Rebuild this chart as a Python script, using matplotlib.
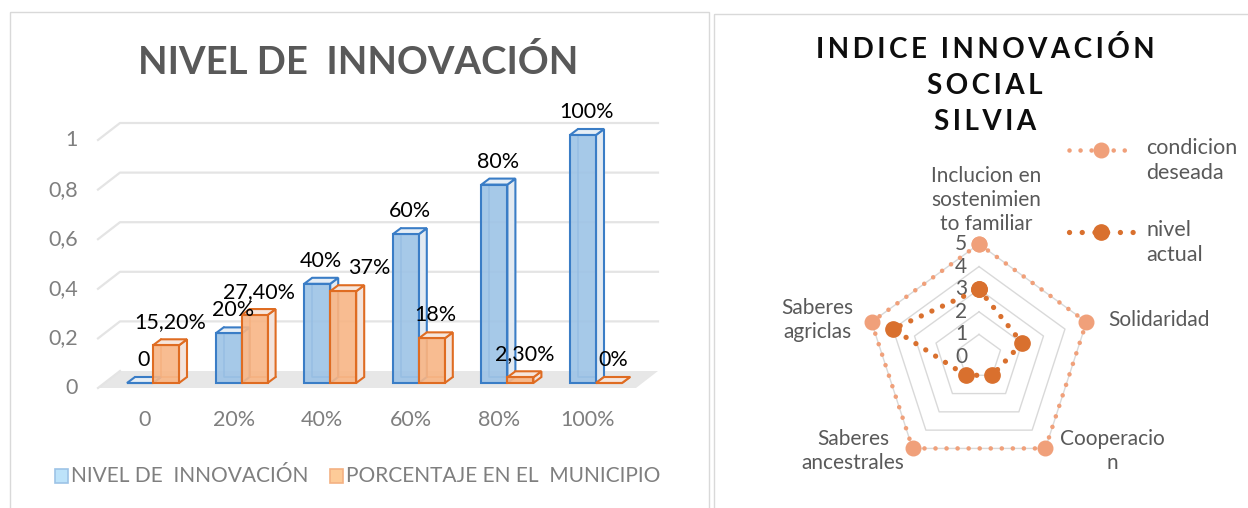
import numpy as np
import matplotlib
matplotlib.use('Agg')
import matplotlib.pyplot as plt
from matplotlib.patches import Polygon, Rectangle
from matplotlib.colors import to_rgba

plt.rcParams['font.family'] = ['Lato', 'DejaVu Sans']

# datos: nivel de innovacion
categorias = ['0', '20%', '40%', '60%', '80%', '100%']
nivel = [0, 0.2, 0.4, 0.6, 0.8, 1.0]
municipio = [0.152, 0.274, 0.37, 0.18, 0.023, 0.0]
etiq_nivel = ['0', '20%', '40%', '60%', '80%', '100%']
etiq_municipio = ['15,20%', '27,40%', '37%', '18%', '2,30%', '0%']
yticks = [0, 0.2, 0.4, 0.6, 0.8, 1.0]
ytick_labels = ['0', '0,2', '0,4', '0,6', '0,8', '1']
series_bar = ['NIVEL DE  INNOVACIÓN', 'PORCENTAJE EN EL  MUNICIPIO']

# datos: radar
ejes = ['Inclucion en\nsostenimien\nto familiar', 'Solidaridad', 'Cooperacio\nn',
        'Saberes\nancestrales', 'Saberes\nagriclas']
deseada = [5, 5, 5, 5, 5]
actual = [3, 2, 1, 1, 4]
rticks = [0, 1, 2, 3, 4, 5]
series_radar = ['condicion\ndeseada', 'nivel\nactual']

W, H = 1248, 508
GRIS = '#595959'
GRIS_EJE = '#7F7F7F'


def caja(l, t, r, b):
    return [l / W, 1 - b / H, (r - l) / W, (b - t) / H]


fig = plt.figure(figsize=(W / 100, H / 100), dpi=100)

# capa de fondo con coordenadas en pixeles (marcos, titulos, leyendas)
ov = fig.add_axes([0, 0, 1, 1], zorder=0)
ov.set_xlim(0, W)
ov.set_ylim(H, 0)
ov.axis('off')
ov.add_patch(Rectangle((10, 12), 699, 520, fill=False, ec='#D9D9D9', lw=1))
ov.add_patch(Rectangle((714, 14), 560, 520, fill=False, ec='#D9D9D9', lw=1))

# ---------------- grafico de barras 3D ----------------
X0, SX, Y0, SY = 145, 88.6, 388, 248
PX, PY = 1 / SX, 1 / SY
ax = fig.add_axes(caja(30, 100, 690, 440), zorder=1)
ax.set_xlim((30 - X0) * PX, (690 - X0) * PX)
ax.set_ylim((Y0 - 440) * PY, (Y0 - 100) * PY)
ax.axis('off')

# suelo y paredes
xf0, xf1 = (98 - X0) * PX, (636 - X0) * PX
ddx, ddy = 22 * PX, 17 * PY
ax.add_patch(Polygon([(xf0, 0), (xf1, 0), (xf1 + ddx, ddy), (xf0 + ddx, ddy)],
                     fc='#E7E7E7', ec='none', zorder=1))
for v in yticks[1:]:
    ax.plot([xf0, xf0 + ddx, xf1 + ddx], [v, v + ddy, v + ddy], color='#E4E4E4', lw=1.6, zorder=1)
ax.plot([xf0, xf0 + ddx], [0, ddy], color='#E4E4E4', lw=1.6, zorder=1)

for v, lab in zip(yticks, ytick_labels):
    ax.text(xf0 - 20 * PX, v, lab, ha='right', va='center', fontsize=15.5, color=GRIS_EJE)
for i, lab in enumerate(categorias):
    ax.text(i, -32 * PY, lab, ha='center', va='center', fontsize=15.5, color=GRIS_EJE)

w = 26 * PX
bdx, bdy = 8 * PX, 6 * PY
lift = 5 * PY
estilos = [
    dict(face='#9DC3E6', edge='#3A7DC6', side='#E2EAF2', top='#E6EEF6'),
    dict(face='#F8B585', edge='#DF6C22', side='#F3E3DB', top='#F6E6DC'),
]


def barra3d(xl, v, st):
    yb, yt = lift, lift + v
    e = st['edge']
    ax.plot([xl + bdx, xl + bdx, xl + w + bdx], [yt + bdy, yb + bdy, yb + bdy],
            color=e, lw=1.1, zorder=3, alpha=0.8)
    ax.add_patch(Polygon([(xl + w, yb), (xl + w + bdx, yb + bdy), (xl + w + bdx, yt + bdy), (xl + w, yt)],
                         fc=st['side'], ec=e, lw=1.5, zorder=3))
    ax.add_patch(Polygon([(xl, yt), (xl + w, yt), (xl + w + bdx, yt + bdy), (xl + bdx, yt + bdy)],
                         fc=st['top'], ec=e, lw=1.5, zorder=3))
    ax.add_patch(Rectangle((xl, yb), w, v, fc=to_rgba(st['face'], 0.9), ec=e, lw=1.5, zorder=3))


empuje = {(1, 2): 22}
for i in range(len(categorias)):
    for s, (vals, labs) in enumerate([(nivel, etiq_nivel), (municipio, etiq_municipio)]):
        xl = i + (s - 1) * w + 8 * PX
        barra3d(xl, vals[i], estilos[s])
        dx = empuje.get((s, i), 0) * PX
        ax.text(xl + w / 2 + bdx / 2 + dx, lift + vals[i] + 23 * PY, labs[i],
                ha='center', va='center', fontsize=15.5, color='black', zorder=5)

ov.text(358, 62, 'NIVEL DE  INNOVACIÓN', ha='center', va='center', fontsize=27.5,
        fontweight='bold', color=GRIS)

# leyenda de barras
ley_x = [55, 330]
for k, nombre in enumerate(series_bar):
    fc = ['#BDE3FA', '#FDCB98'][k]
    ec = ['#9DC3E6', '#F4B183'][k]
    ov.add_patch(Rectangle((ley_x[k], 469), 13, 14, fc=fc, ec=ec, lw=1.2))
    ov.text(ley_x[k] + 16, 476, nombre, ha='left', va='center', fontsize=15, color=GRIS_EJE)

# ---------------- radar ----------------
CX, CY, R = 979, 357, 113
rad = fig.add_axes(caja(CX - R, CY - R, CX + R, CY + R), projection='polar', zorder=1)
rad.set_theta_zero_location('N')
rad.set_theta_direction(-1)
rad.set_ylim(0, 5)
rad.set_xticks([])
rad.set_yticks([])
rad.grid(False)
rad.spines['polar'].set_visible(False)
rad.patch.set_alpha(0)

theta = np.deg2rad(np.arange(len(ejes)) * 360 / len(ejes))
tc = np.append(theta, theta[0])
for k in rticks[1:]:
    rad.plot(tc, [k] * len(tc), color='#D9D9D9', lw=1, zorder=1)

col_des, col_act = '#F0A07A', '#D9702E'
rad.plot(tc, deseada + deseada[:1], color=col_des, lw=3.3, ls=(0, (0.01, 2.4)),
         dash_capstyle='round', marker='o', ms=10.5, zorder=3, clip_on=False)
rad.plot(tc, actual + actual[:1], color=col_act, lw=3.8, ls=(0, (0.01, 2.2)),
         dash_capstyle='round', marker='o', ms=11, zorder=4, clip_on=False)

for k in rticks:
    rad.annotate(str(k), (0, k), xytext=(-12, 0), textcoords='offset pixels',
                 ha='right', va='center', fontsize=15, color=GRIS, zorder=2)

pos_eje = [((7, 10), 'center', 'bottom'), ((22, 2), 'left', 'center'),
           ((15, -3), 'left', 'center'), ((-8, -3), 'right', 'center'),
           ((-18, 2), 'right', 'center')]
for t, nombre, (off, ha, va) in zip(theta, ejes, pos_eje):
    rad.annotate(nombre, (t, 5), xytext=off, textcoords='offset pixels', ha=ha, va=va,
                 multialignment='center', fontsize=15, color=GRIS, linespacing=1.25,
                 annotation_clip=False, zorder=5)

titulo = ['\u2009'.join(lin) for lin in ['INDICE INNOVACIÓN', 'SOCIAL', 'SILVIA']]
for lin, y in zip(titulo, [50, 86, 122]):
    ov.text(985, y, lin, ha='center', va='center', fontsize=20, fontweight='bold', color='#0D0D0D')

# leyenda del radar
for nombre, y, col, lw, ms in zip(series_radar, [150, 232], [col_des, col_act], [3.3, 3.8], [10.5, 11]):
    ov.plot([1069, 1134], [y, y], color=col, lw=lw, ls=(0, (0.01, 2.4)), dash_capstyle='round')
    ov.plot([1101], [y], marker='o', color=col, ms=ms)
    ov.text(1146, y - 12, nombre, ha='left', va='top', fontsize=15.5, color=GRIS, linespacing=1.3)

fig.savefig('out.png', dpi=100)
